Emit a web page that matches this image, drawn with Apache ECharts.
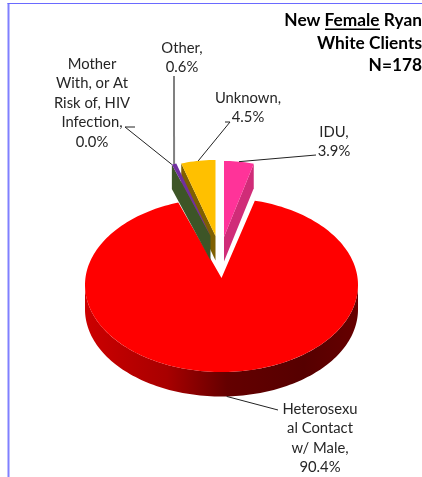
<!DOCTYPE html>
<html>
<head>
<meta charset="utf-8">
<style>html,body{margin:0;padding:0;background:#fff}#chart{width:422px;height:477px}</style>
<script src="https://cdn.jsdelivr.net/npm/echarts@6/dist/echarts.min.js"></script>
</head>
<body>
<div id="chart"></div>
<script>
// Data, in the clockwise order of the slices, starting at 12 o'clock
var categories = ['IDU', 'Heterosexual Contact w/ Male', 'Mother With, or At Risk of, HIV Infection', 'Other', 'Unknown'];
var values = [3.9, 90.4, 0.0, 0.6, 4.5];
var labelTexts = ['IDU,\n3.9%', 'Heterosexu\nal Contact\nw/ Male,\n90.4%', 'Mother\nWith, or At\nRisk of, HIV\nInfection,\n0.0%', 'Other,\n0.6%', 'Unknown,\n4.5%'];
var titleLines = ['New Female Ryan', 'White Clients', 'N=178'];

// Look of each slice
var topColors = ['#ff3399', '#ff0000', '#7030a0', '#7030a0', '#ffc000'];
var sideColors = ['#d02c78', null, '#3d5527', null, '#7f6000'];
var sideEdge = ['end', null, 'start', null, 'start'];
var centreX = [224, 221.5, 210.5, 210.5, 215.5];
var centreY = [248, 285, 247, 247, 247];
var radiusX = [122, 136.5, 122, 122, 122];
var apexLift = [11, 7, 11, 11, 11];
var drawOrder = [1, 0, 4, 2, 3];
var radiusY = 87, depth = 24.5;

// Label placement: text centre, first line y, leader path start
var labelX = [334, 320, 92, 182, 248];
var labelY = [132, 409, 64, 48, 98];
var leaderFrom = [[[316, 155]], [[278, 410]], [[135, 127], [125, 127]], [[174, 76]], [[225, 122], [230, 122]]];
var leaderColor = ['#222', '#222', '#222', '#808080', '#222'];
var leaderWidth = [1, 1, 1, 2, 1];
var lineHeight = 19.5;
var fontFamily = 'Lato, "Open Sans", sans-serif';

var total = values.reduce(function (a, b) { return a + b; }, 0);
var starts = [], acc = 0;
values.forEach(function (v) { starts.push(acc / total * 360); acc += v; });

function pt(i, deg, dy) {
  var r = deg * Math.PI / 180;
  return [centreX[i] + radiusX[i] * Math.sin(r), centreY[i] - radiusY * Math.cos(r) + (dy || 0)];
}
function arc(i, a, b, dy) {
  var out = [], n = Math.max(1, Math.ceil(Math.abs(b - a) / 1.5));
  for (var k = 0; k <= n; k++) out.push(pt(i, a + (b - a) * k / n, dy));
  return out;
}
function renderSlice(params, api) {
  var i = params.dataIndex;
  var share = api.value(0) / total * 360;
  var a = starts[i], b = a + share;
  var apex = [centreX[i], centreY[i] - apexLift[i]];
  var kids = [];

  if (i === 1) { // front wall of the large slice
    var wall = arc(i, 90, 270, 0).concat(arc(i, 270, 90, depth));
    kids.push({
      type: 'polygon', shape: { points: wall },
      style: {
        fill: new echarts.graphic.LinearGradient(0, 0, 1, 0, [
          { offset: 0, color: '#cc0000' }, { offset: 0.3, color: '#a80000' },
          { offset: 0.52, color: '#640000' }, { offset: 0.8, color: '#560000' }, { offset: 1, color: '#660000' }
        ])
      }
    });
  }
  if (sideEdge[i]) {
    var e = pt(i, sideEdge[i] === 'start' ? a : b);
    kids.push({
      type: 'polygon',
      shape: { points: [apex, e, [e[0], e[1] + depth], [apex[0], apex[1] + depth]] },
      style: { fill: sideColors[i] }
    });
  }
  if (share > 0) {
    kids.push({
      type: 'polygon', shape: { points: [apex].concat(arc(i, a, b)) },
      style: { fill: topColors[i] }
    });
  }
  return { type: 'group', children: kids };
}
function renderLabel(params, api) {
  var i = params.dataIndex;
  var share = api.value(0) / total * 360;
  var mid = starts[i] + share / 2;
  var end = pt(i, mid, i === 1 ? depth : 0);
  return {
    type: 'group',
    children: [{
      type: 'polyline',
      shape: { points: leaderFrom[i].concat([end]) },
      style: { stroke: leaderColor[i], lineWidth: leaderWidth[i], fill: null }
    }, {
      type: 'text',
      style: {
        text: labelTexts[i], x: labelX[i], y: labelY[i] - lineHeight / 2,
        align: 'center', verticalAlign: 'top', lineHeight: lineHeight,
        font: '14.8px ' + fontFamily, fill: '#262626'
      }
    }]
  };
}

var chart = echarts.init(document.getElementById('chart'), null, { renderer: 'canvas' });

var graphics = [
  { type: 'rect', shape: { x: 7.5, y: 3, width: 2, height: 474 }, style: { fill: '#8080ff' }, silent: true },
  { type: 'rect', shape: { x: 7.5, y: 3, width: 415, height: 1 }, style: { fill: '#6a6aff' }, silent: true },
  { type: 'rect', shape: { x: 325, y: 28.5, width: 55, height: 1.4 }, style: { fill: '#000' }, silent: true }
];
titleLines.forEach(function (t, k) {
  graphics.push({
    type: 'text', silent: true,
    style: { text: t, x: 422, y: 20.5 + k * 22.5, align: 'right', verticalAlign: 'middle', font: 'bold 17.3px ' + fontFamily, fill: '#000' }
  });
});

chart.setOption({
  animation: false,
  graphic: graphics,
  series: [{
    type: 'custom', coordinateSystem: 'none', silent: true, z: 1,
    renderItem: function (p, api) { return renderSlice({ dataIndex: drawOrder[p.dataIndex] }, api); },
    data: drawOrder.map(function (i) { return [values[i]]; })
  }, {
    type: 'custom', coordinateSystem: 'none', silent: true, z: 2,
    renderItem: renderLabel,
    data: values.map(function (v) { return [v]; })
  }]
});
</script>
</body>
</html>
